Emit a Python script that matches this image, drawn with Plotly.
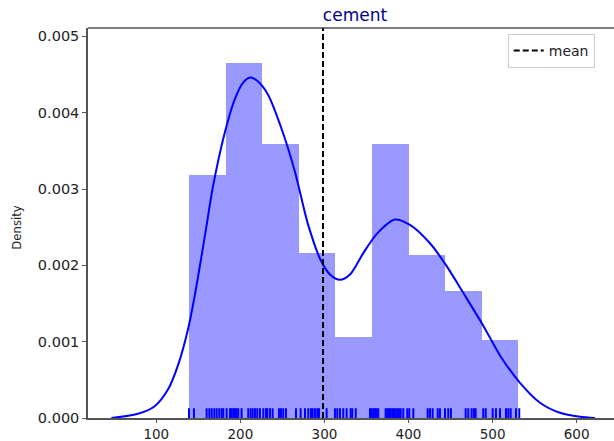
import plotly.graph_objects as go

# Histogram of cement content (density-normalised), 9 equal-width bins
bin_edges = [139.0, 182.5, 226.0, 269.5, 313.0, 356.5, 400.0, 443.5, 487.0, 530.5]
bin_density = [0.00318, 0.00465, 0.00359, 0.00216, 0.00106, 0.00359, 0.00213, 0.00166, 0.00102]

# Kernel density estimate of the same column
kde_x = [46.6, 78.2, 98.1, 113.9, 125.8, 137.7, 145.7, 153.5, 159.5, 167.4, 181.3,
         193.2, 203.1, 211.8, 221.0, 232.8, 248.7, 264.6, 280.4, 295.5, 306.6, 318.5,
         330.4, 346.2, 362.1, 383.9, 401.7, 425.5, 445.4, 465.1, 488.9, 508.8, 532.6,
         556.4, 580.1, 603.9, 621.8]
kde_y = [0.0, 0.000055, 0.000155, 0.000373, 0.000690, 0.00116, 0.00160, 0.00210, 0.00250,
         0.00303, 0.00373, 0.00417, 0.00439, 0.00446, 0.00441, 0.00424, 0.00380, 0.00324,
         0.00254, 0.00207, 0.00188, 0.00181, 0.00188, 0.00216, 0.00241, 0.00260, 0.00253,
         0.00229, 0.00199, 0.00164, 0.00121, 0.00082, 0.00046, 0.00020, 0.000068,
         0.000016, 0.0]

# Distinct observed values shown in the rug
rug_values = [138.9, 144.8, 159.9, 163.1, 165.9, 169.0, 171.8, 174.9, 177.8, 179.7, 183.7,
              187.7, 189.7, 191.6, 193.6, 195.6, 197.5, 201.5, 209.4, 212.3, 214.7, 217.4,
              220.1, 223.3, 227.3, 230.5, 232.0, 235.2, 238.4, 245.9, 248.3, 251.0, 254.3,
              266.2, 271.7, 276.9, 280.8, 284.0, 286.0, 288.7, 291.5, 293.5, 302.6, 312.5,
              315.3, 318.5, 322.4, 326.4, 331.2, 333.1, 337.2, 354.2, 356.2, 358.1, 360.1,
              362.1, 364.0, 372.8, 374.7, 376.8, 378.8, 380.7, 382.7, 384.7, 386.6, 388.6,
              390.7, 393.8, 398.5, 400.9, 405.7, 422.8, 425.5, 428.7, 434.7, 437.4, 443.4,
              447.3, 450.5, 468.0, 471.1, 475.1, 477.9, 479.8, 488.9, 491.8, 500.1, 504.0,
              508.8, 515.9, 518.7, 521.5, 527.8, 531.7]

mean_value = 298.3

x_ticks = [100, 200, 300, 400, 500, 600]
y_ticks = [0.000, 0.001, 0.002, 0.003, 0.004, 0.005]

X_RANGE = [18.8, 644.4]
Y_RANGE = [0.0, 0.00511]
RUG_FRAC = 0.025

centers = [(a + b) / 2 for a, b in zip(bin_edges[:-1], bin_edges[1:])]
widths = [b - a for a, b in zip(bin_edges[:-1], bin_edges[1:])]

fig = go.Figure()

fig.add_trace(go.Bar(
    x=centers, y=bin_density, width=widths,
    marker=dict(color="rgba(0,0,255,0.4)", line=dict(width=0)),
    showlegend=False, hoverinfo="skip",
))

fig.add_trace(go.Scatter(
    x=kde_x, y=kde_y, mode="lines",
    line=dict(color="blue", width=2, shape="spline", smoothing=0.8),
    showlegend=False, hoverinfo="skip",
))

# rug ticks: one short vertical segment per observed value
rug_h = RUG_FRAC * Y_RANGE[1]
rx, ry = [], []
for v in rug_values:
    rx += [v, v, None]
    ry += [0, rug_h, None]
fig.add_trace(go.Scatter(
    x=rx, y=ry, mode="lines", line=dict(color="blue", width=2),
    showlegend=False, hoverinfo="skip",
))

fig.add_trace(go.Scatter(
    x=[mean_value, mean_value], y=Y_RANGE, mode="lines",
    line=dict(color="black", width=2, dash="6px,3px"),
    name="mean", showlegend=True, hoverinfo="skip",
))

fig.update_layout(
    width=614, height=441,
    margin=dict(l=88, r=0, t=28, b=23, autoexpand=False),
    paper_bgcolor="white", plot_bgcolor="white",
    bargap=0,
    font=dict(family="DejaVu Sans", size=14, color="#222"),
    title=dict(text="cement", x=(355 - 88) / 526, xref="paper", xanchor="center",
               y=1 - 15 / 441, yref="container", yanchor="middle",
               font=dict(family="DejaVu Sans", size=17, color="darkblue")),
    legend=dict(x=0.798, y=0.985, xanchor="left", yanchor="top",
                bgcolor="white", bordercolor="#cccccc", borderwidth=1,
                font=dict(family="DejaVu Sans", size=14, color="#222"),
                itemwidth=30, tracegroupgap=0),
    showlegend=True,
)

fig.update_xaxes(
    range=X_RANGE, tickvals=x_ticks, ticktext=[str(t) for t in x_ticks],
    showgrid=False, zeroline=False, automargin=False,
    showline=True, linecolor="#555", linewidth=1.5, mirror=False,
    ticks="outside", ticklen=3, tickcolor="#555", tickwidth=1,
    tickfont=dict(family="DejaVu Sans", size=13.5, color="#222"),
)
fig.update_yaxes(
    range=Y_RANGE, tickvals=y_ticks, ticktext=[f"{t:.3f}" for t in y_ticks],
    showgrid=False, zeroline=False, automargin=False,
    showline=True, linecolor="#555", linewidth=1.5,
    ticks="outside", ticklen=4, tickcolor="#555", tickwidth=1,
    tickfont=dict(family="DejaVu Sans", size=14.5, color="#222"),
)

# top frame line
fig.add_shape(type="line", xref="paper", yref="paper", x0=0, x1=1, y0=1, y1=1,
              line=dict(color="black", width=1))

fig.add_annotation(text="Density", textangle=-90, xref="paper", yref="paper",
                   x=(17 - 88) / 526, y=1 - (228 - 28) / 390.5,
                   xanchor="center", yanchor="middle", showarrow=False,
                   font=dict(family="DejaVu Sans Condensed, DejaVu Sans", size=13, color="#222"))

fig.write_html("out.html")
